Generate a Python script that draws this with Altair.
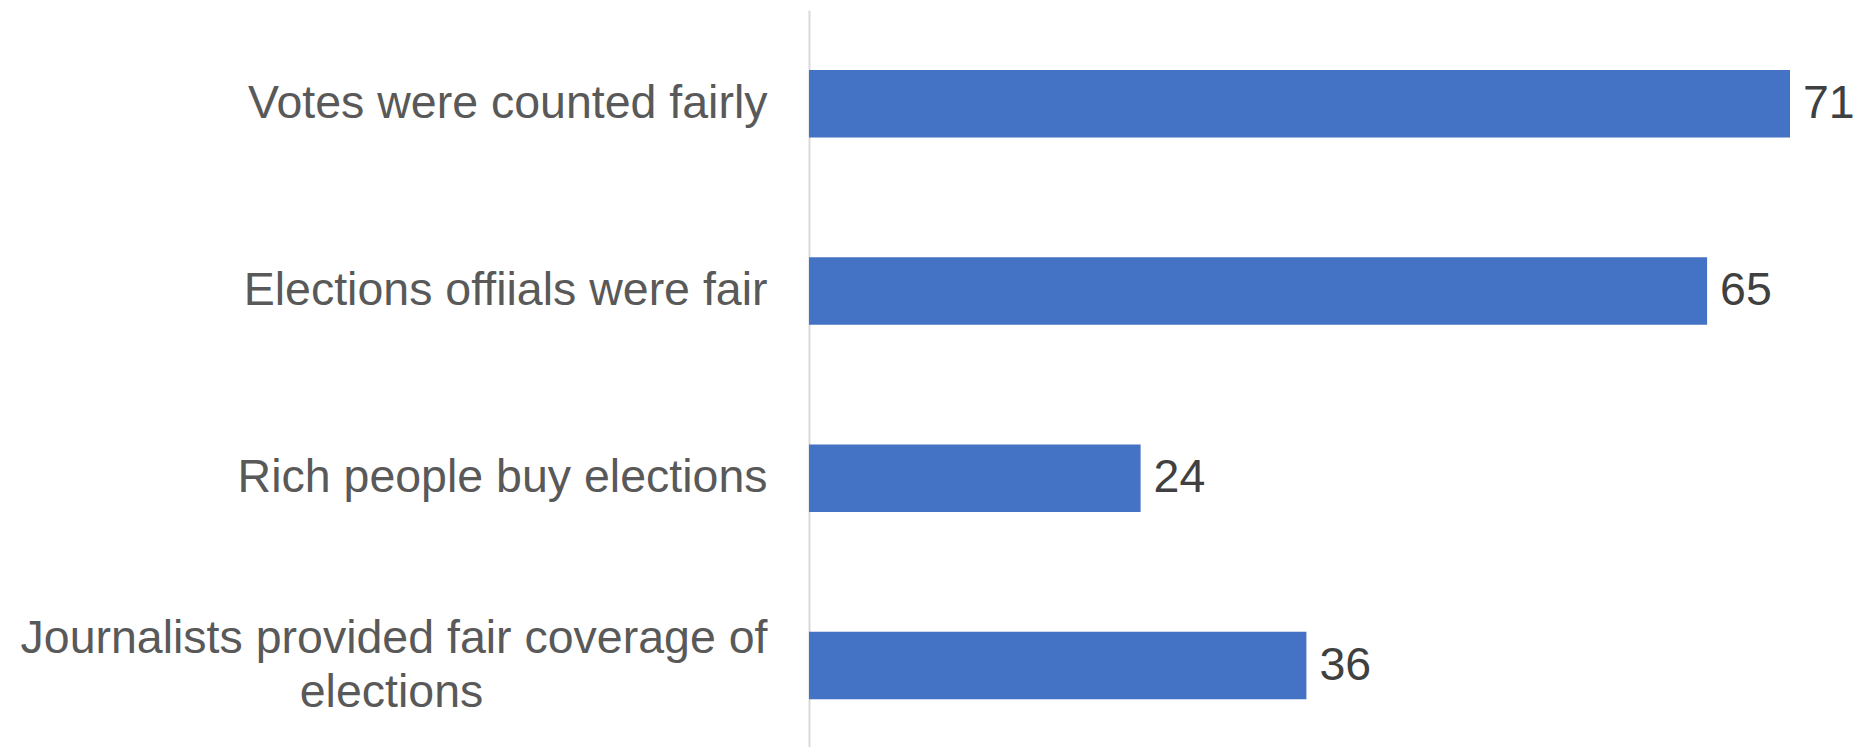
import altair as alt
import pandas as pd

categories = [
    "Votes were counted fairly",
    "Elections offiials were fair",
    "Rich people buy elections",
    "Journalists provided fair coverage of elections",
]
values = [71, 65, 24, 36]

LONG = "Journalists provided fair coverage of elections"
# line breaks of the long label; the second line is padded with no-break spaces
# (closed by a word joiner so they are not dropped) so that it sits centred
PAD = "\u00a0" * 22 + "\u2060"
label_expr = (
    f"datum.label == '{LONG}' ? "
    f"['Journalists provided fair coverage of', 'elections{PAD}'] : datum.label"
)

df = pd.DataFrame({"category": categories, "value": values})

FONT = "Liberation Sans"

base = alt.Chart(df).encode(
    y=alt.Y(
        "category:N",
        sort=None,
        scale=alt.Scale(paddingInner=0.64, paddingOuter=0.2875, align=0.557),
        axis=alt.Axis(
            title=None,
            ticks=False,
            domain=True,
            domainColor="#d9d9d9",
            domainWidth=2,
            labelFont=FONT,
            labelFontSize=46.5,
            labelColor="#595959",
            labelPadding=42,
            labelLimit=2000,
            labelLineHeight=54,
            labelExpr=label_expr,
            labelOffset={
                "condition": {"test": f"datum.label == '{LONG}'", "value": -27},
                "value": 0,
            },
        ),
    ),
    x=alt.X(
        "value:Q",
        scale=alt.Scale(domain=[0, 71], nice=False),
        axis=None,
    ),
)

bars = base.mark_bar(color="#4472C4")
texts = base.mark_text(
    align="left",
    baseline="middle",
    dx=13,
    font=FONT,
    fontSize=46.5,
    color="#404040",
).encode(text="value:Q")

chart = (
    (bars + texts)
    .properties(
        width=981,
        height=737,
        padding={"left": 12, "top": 2, "right": 0, "bottom": 0},
    )
    .configure(background="white", view=alt.ViewConfig(strokeWidth=0, stroke="transparent"))
)

chart.save("out.html", embed_options={"renderer": "svg", "actions": False})
